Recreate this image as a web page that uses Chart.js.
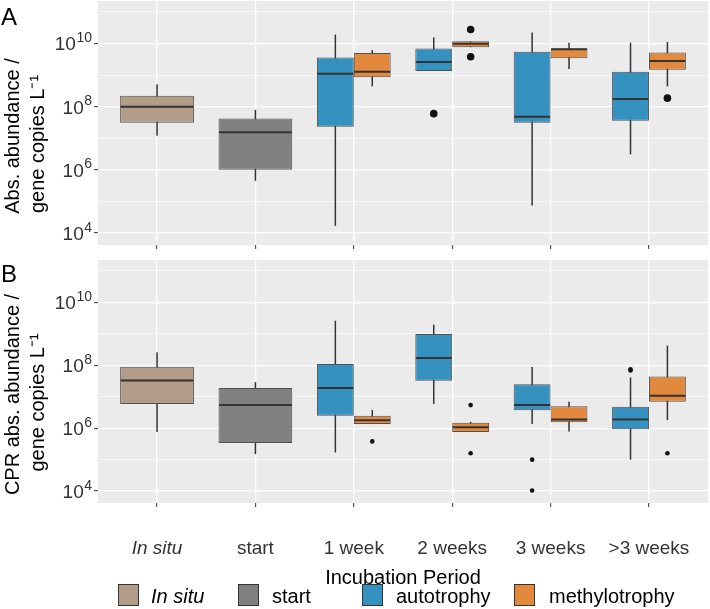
<!DOCTYPE html>
<html>
<head>
<meta charset="utf-8">
<script src="https://cdn.jsdelivr.net/npm/chart.js@4.4.0/dist/chart.umd.min.js"></script>
<style>
  body { margin: 0; width: 710px; height: 609px; background: #fff; position: relative; overflow: hidden;
         font-family: 'Liberation Sans', Arial, sans-serif; }
  canvas { position: absolute; left: 0; }
  #chartA { top: 0; }
  #chartB { top: 252px; }
  .tag { position: absolute; left: 1px; font-size: 24px; line-height: 1; color: #000; }
  .key { position: absolute; top: 584px; width: 19px; height: 20px; border: 1px solid #333; }
  .keytext { position: absolute; top: 586px; font-size: 20px; line-height: 20px; color: #000; }
</style>
</head>
<body>
<canvas id="chartA" width="710" height="252"></canvas>
<canvas id="chartB" width="710" height="338"></canvas>
<div class="tag" style="top:5px">A</div>
<div class="tag" style="top:262px">B</div>

<div class="key" style="left:118px;background:#B39C88"></div><div class="keytext" style="left:151px;font-style:italic">In situ</div>
<div class="key" style="left:238px;background:#808080"></div><div class="keytext" style="left:272px">start</div>
<div class="key" style="left:362px;background:#3592C0"></div><div class="keytext" style="left:396px">autotrophy</div>
<div class="key" style="left:514px;background:#E3893E"></div><div class="keytext" style="left:549px">methylotrophy</div>

<script>
const categories = ['In situ', 'start', '1 week', '2 weeks', '3 weeks', '>3 weeks'];
const groups = ['In situ', 'start', 'autotrophy', 'methylotrophy'];
const colors = ['#B39C88', '#808080', '#3592C0', '#E3893E'];

// box summaries per category: [lower whisker, Q1, median, Q3, upper whisker]
// panel A: absolute abundance
const absInSitu = [[1.2e7, 3.1e7, 1.0e8, 2.2e8, 5.1e8], null, null, null, null, null];
const absStart = [null, [4.5e5, 1.0e6, 1.55e7, 4.2e7, 7.9e7], null, null, null, null];
const absAuto = [null, null,
  [1.7e4, 2.3e7, 1.1e9, 3.6e9, 1.9e10],
  [1.35e9, 1.35e9, 2.6e9, 6.9e9, 1.55e10],
  [7.4e4, 3.1e7, 4.8e7, 5.5e9, 2.2e10],
  [3.1e6, 3.6e7, 1.75e8, 1.26e9, 1.05e10]];
const absMethyl = [null, null,
  [4.4e8, 8.5e8, 1.26e9, 5.0e9, 6.2e9],
  [7.6e9, 7.6e9, 9.8e9, 1.17e10, 1.17e10],
  [1.55e9, 3.4e9, 6.6e9, 6.9e9, 1.05e10],
  [4.4e8, 1.48e9, 2.8e9, 5.2e9, 1.12e10]];
const absAutoOut = [[], [], [], [6.0e7], [], []];
const absMethylOut = [[], [], [], [2.75e10, 3.8e9], [], [1.86e8]];

// panel B: CPR absolute abundance
const cprInSitu = [[7.6e5, 5.9e6, 3.3e7, 8.9e7, 2.6e8], null, null, null, null, null];
const cprStart = [null, [1.5e5, 3.4e5, 5.4e6, 1.9e7, 2.9e7], null, null, null, null];
const cprAuto = [null, null,
  [1.7e5, 2.5e6, 1.9e7, 1.1e8, 2.6e9],
  [5.9e6, 3.2e7, 1.7e8, 9.8e8, 1.95e9],
  [1.35e6, 3.7e6, 5.4e6, 2.5e7, 8.7e7],
  [1.0e5, 9.3e5, 1.9e6, 4.8e6, 4.1e7]];
const cprMethyl = [null, null,
  [1.35e6, 1.35e6, 1.8e6, 2.5e6, 3.8e6],
  [7.6e5, 7.6e5, 1.07e6, 1.5e6, 1.6e6],
  [7.9e5, 1.55e6, 1.9e6, 5.0e6, 6.9e6],
  [1.8e6, 6.9e6, 1.07e7, 4.4e7, 4.2e8]];
const cprAutoOut = [[], [], [], [], [1.0e5, 1.05e4], [6.8e7, 7.4e7]];
const cprMethylOut = [[], [], [3.8e5], [5.4e6, 1.6e5], [], [1.6e5]];

const noOutliers = [[], [], [], [], [], []];

const yTickValues = [1e4, 1e5, 1e6, 1e7, 1e8, 1e9, 1e10, 1e11];
const yLabelExps = [4, 6, 8, 10];

const FONT = 'Liberation Sans';

function makeDatasets(summaries, outliers) {
  return groups.map((g, gi) => ({
    label: g,
    data: summaries[gi].map(s => s ? [s[1], s[3]] : null),
    stats: summaries[gi],
    outliers: outliers[gi],
    backgroundColor: colors[gi],
    borderColor: '#505050',
    borderWidth: 1,
    borderSkipped: false,
    skipNull: true,
    categoryPercentage: 0.75,
    barPercentage: 1
  }));
}

const isMajor = v => yLabelExps.includes(Math.round(Math.log10(v)));

// panel background, whiskers, medians, outliers, y tick labels with superscripts, y title
const boxParts = {
  id: 'boxParts',
  beforeDraw(chart) {
    const {ctx, chartArea: a} = chart;
    ctx.save();
    ctx.fillStyle = '#EBEBEB';
    ctx.fillRect(a.left, a.top, a.right - a.left, a.bottom - a.top);
    ctx.restore();
  },
  beforeDatasetsDraw(chart) {
    const {ctx} = chart;
    const y = chart.scales.y;
    ctx.save();
    ctx.strokeStyle = '#333333';
    ctx.lineWidth = 1.5;
    chart.data.datasets.forEach((ds, di) => {
      chart.getDatasetMeta(di).data.forEach((bar, i) => {
        const s = ds.stats[i];
        if (!s) return;
        ctx.beginPath();
        ctx.moveTo(bar.x, y.getPixelForValue(s[0]));
        ctx.lineTo(bar.x, y.getPixelForValue(s[4]));
        ctx.stroke();
      });
    });
    ctx.restore();
  },
  afterDatasetsDraw(chart, args, opts) {
    const {ctx} = chart;
    const y = chart.scales.y;
    ctx.save();
    chart.data.datasets.forEach((ds, di) => {
      chart.getDatasetMeta(di).data.forEach((bar, i) => {
        const s = ds.stats[i];
        if (!s) return;
        const ym = y.getPixelForValue(s[2]);
        ctx.strokeStyle = '#333333';
        ctx.lineWidth = 2;
        ctx.beginPath();
        ctx.moveTo(bar.x - bar.width / 2 + 0.5, ym);
        ctx.lineTo(bar.x + bar.width / 2 - 0.5, ym);
        ctx.stroke();
        ctx.fillStyle = opts.pointColor;
        (ds.outliers[i] || []).forEach(v => {
          ctx.beginPath();
          ctx.arc(bar.x, y.getPixelForValue(v), opts.radius, 0, Math.PI * 2);
          ctx.fill();
        });
      });
    });
    ctx.restore();
  },
  afterDraw(chart, args, opts) {
    const {ctx, chartArea: a} = chart;
    const y = chart.scales.y;
    ctx.save();
    ctx.fillStyle = '#333333';
    ctx.textBaseline = 'alphabetic';
    ctx.textAlign = 'right';
    yLabelExps.forEach(e => {
      const py = y.getPixelForValue(Math.pow(10, e));
      const xr = a.left - 6;
      ctx.font = '14px "' + FONT + '"';
      const ew = ctx.measureText(String(e)).width;
      ctx.fillText(String(e), xr, py - 1.5);
      ctx.font = '19px "' + FONT + '"';
      ctx.fillText('10', xr - ew - 0.5, py + 7);
    });
    // y axis title, two rotated lines
    const cy = (a.top + a.bottom) / 2;
    ctx.fillStyle = '#000';
    ctx.font = '20px "' + FONT + '"';
    ctx.textAlign = 'center';
    ctx.textBaseline = 'middle';
    opts.yTitle.forEach((line, li) => {
      ctx.save();
      ctx.translate(opts.titleX[li], cy + opts.titleShift[li]);
      ctx.rotate(-Math.PI / 2);
      ctx.fillText(line, 0, 0);
      ctx.restore();
    });
    ctx.restore();
  }
};

function yScale() {
  return {
    type: 'logarithmic',
    min: 4.2e3,
    max: 2.2e11,
    afterBuildTicks: s => { s.ticks = yTickValues.map(v => ({value: v})); },
    afterFit: s => { s.width = 98; },
    ticks: {display: false},
    grid: {
      color: '#FFFFFF',
      lineWidth: c => isMajor(c.tick.value) ? 1.3 : 0.6,
      drawTicks: true,
      tickLength: 4,
      tickWidth: 1,
      tickColor: c => isMajor(c.tick.value) ? '#333333' : 'rgba(0,0,0,0)'
    },
    border: {display: false}
  };
}

function xScale(showLabels, height) {
  return {
    type: 'category',
    offset: true,
    // ggplot-style discrete expansion: 0.6 of a category on each side
    afterBuildTicks: s => {
      s._startValue = s.min - 0.6;
      s._valueRange = s.max - s.min + 1.2;
    },
    afterFit: s => {
      s.height = height;
      s.paddingLeft = 0;
      s.paddingRight = 0;
    },
    grid: {
      offset: false,
      color: '#FFFFFF',
      lineWidth: 1.3,
      drawTicks: true,
      tickLength: 4,
      tickWidth: 1,
      tickColor: '#333333'
    },
    border: {display: false},
    ticks: {
      display: showLabels,
      padding: 30,
      color: '#333333',
      maxRotation: 0,
      autoSkip: false,
      font: c => ({family: FONT, size: 19, style: c.index === 0 ? 'italic' : 'normal'})
    },
    title: {
      display: showLabels,
      text: 'Incubation Period',
      color: '#000',
      font: {family: FONT, size: 20, lineHeight: 1.2},
      padding: 0
    }
  };
}

function makeChart(id, datasets, yTitle, showLabels, xHeight, padTop, radius) {
  return new Chart(document.getElementById(id), {
    type: 'bar',
    data: {labels: categories, datasets: datasets},
    plugins: [boxParts],
    options: {
      responsive: false,
      animation: false,
      layout: {padding: {top: padTop, right: 2, left: 0, bottom: 0}},
      scales: {
        x: xScale(showLabels, xHeight),
        y: yScale()
      },
      plugins: {
        legend: {display: false},
        tooltip: {enabled: false},
        boxParts: {radius: radius, pointColor: '#111111', yTitle: yTitle,
                   titleX: [13, 38], titleShift: [13, 21]}
      }
    }
  });
}

makeChart('chartA',
  makeDatasets([absInSitu, absStart, absAuto, absMethyl], [noOutliers, noOutliers, absAutoOut, absMethylOut]),
  ['Abs. abundance /', 'gene copies L\u207B\u00B9'], false, 7, 1, 3.8);

makeChart('chartB',
  makeDatasets([cprInSitu, cprStart, cprAuto, cprMethyl], [noOutliers, noOutliers, cprAutoOut, cprMethylOut]),
  ['CPR abs. abundance /', 'gene copies L\u207B\u00B9'], true, 87, 8, 2.3);
</script>
</body>
</html>
